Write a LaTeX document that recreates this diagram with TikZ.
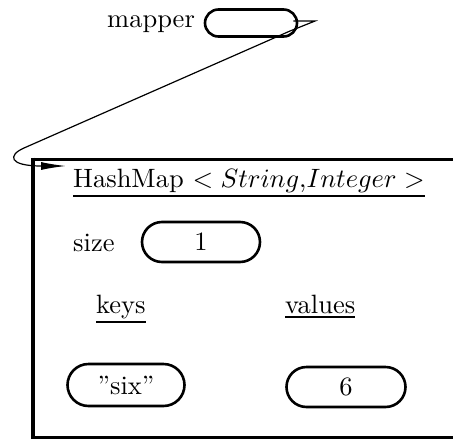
\documentclass[tikz,border=0pt]{standalone}
\usepackage{graphicx}
\usetikzlibrary{arrows.meta}
% text is set at 10pt and enlarged, keeping the 10pt letter shapes
\newcommand\bigtx[1]{\scalebox{2.65}{#1}}
% underline with a slightly heavier rule
\newcommand\ul[1]{\vtop{\hbox{#1}\kern1.1pt\hrule height 0.7pt}}
\begin{document}
\begin{tikzpicture}[x=1pt,y=-1pt,
  every node/.style={font=\fontsize{10}{12}\selectfont, inner sep=0pt},
  slot/.style={draw, line width=2.6pt, rounded corners=#1, minimum height=2*#1},
  lbl/.style={anchor=base west}]
\useasboundingbox (0,0) rectangle (453,440);

% object box for the map (runs past the right edge)
\draw[line width=3pt] (453,159) -- (33,159);
\draw[line width=3pt] (33,437) -- (453,437);
\draw[line width=4pt] (33,157.5) -- (33,438.5);

% the reference variable
\node[lbl] (mlab) at (107,27) {\bigtx{mapper}};
\node[slot=13.5pt, minimum width=92pt] (m) at (251,23) {};

% title of the object
\node[lbl] (title) at (73,187) {\bigtx{\ul{HashMap $<String$,$Integer>$}}};

% size field
\node[lbl] (szlab) at (73,251) {\bigtx{size}};
\node[slot=20pt, minimum width=118pt] (sz) at (201,242) {\bigtx{1}};

% column headings
\node[lbl] (keys) at (96,313) {\bigtx{\ul{keys}}};
\node[lbl] (vals) at (285,313) {\bigtx{\ul{values}}};

% entries
\node[slot=21pt, minimum width=117pt] (k1) at (126,385) {\bigtx{''six''}};
\node[slot=20pt, minimum width=119pt] (v1) at (346,387) {\bigtx{6}};

% reference arrow into the object
\coordinate (hm) at (66,166);
\draw[line width=1.2pt, -{Latex[length=25pt,width=8pt]}]
  ([xshift=-5pt,yshift=2pt]m.east) -- (315,21) -- (290,31)
  -- (24,148) .. controls (8,155) and (8,166) .. (hm);
\end{tikzpicture}
\end{document}
